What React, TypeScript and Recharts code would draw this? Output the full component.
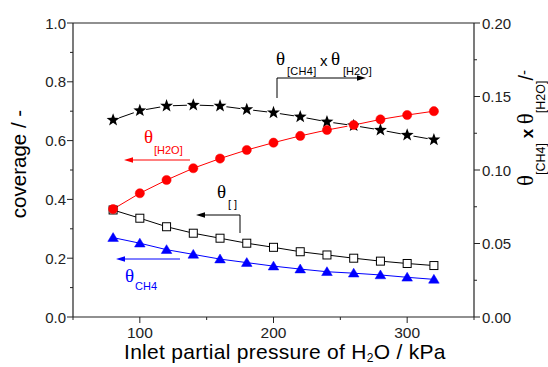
import React from 'react';
import { ComposedChart, Line, XAxis, YAxis, ReferenceLine } from 'recharts';

// Inlet partial pressure of H2O (kPa)
const pressures = [80, 100, 120, 140, 160, 180, 200, 220, 240, 260, 280, 300, 320];
// coverages (left axis)
const thetaH2O = [0.367, 0.421, 0.466, 0.506, 0.539, 0.568, 0.593, 0.616, 0.636, 0.653, 0.672, 0.687, 0.7];
const thetaVacant = [0.364, 0.336, 0.307, 0.285, 0.268, 0.251, 0.237, 0.222, 0.211, 0.2, 0.19, 0.182, 0.175];
const thetaCH4 = [0.27, 0.251, 0.229, 0.213, 0.197, 0.185, 0.173, 0.163, 0.154, 0.149, 0.143, 0.135, 0.128];
// product theta_CH4 x theta_H2O (right axis)
const productCH4H2O = [0.134, 0.1404, 0.1436, 0.1442, 0.1436, 0.1412, 0.139, 0.1362, 0.1328, 0.1302, 0.1272, 0.1238, 0.1206];

const xTicks = [50, 100, 150, 200, 250, 300, 350];
const leftTicks = [0, 0.1, 0.2, 0.3, 0.4, 0.5, 0.6, 0.7, 0.8, 0.9, 1.0];
const rightTicks = [0, 0.025, 0.05, 0.075, 0.1, 0.125, 0.15, 0.175, 0.2];

const data = pressures.map((p, i) => ({
  p,
  h2o: thetaH2O[i],
  vac: thetaVacant[i],
  ch4: thetaCH4[i],
  prod: productCH4H2O[i],
}));

const SANS = '"Liberation Sans", Arial, sans-serif';
const SERIF = '"Liberation Serif", "Times New Roman", serif';
const AX = '#222';
const RED = '#ff0000';
const BLUE = '#0000ff';

const LeftTick = (props: any) => {
  const { x, y, payload } = props;
  const v = payload.value;
  const major = Math.round(v * 10) % 2 === 0;
  return (
    <g>
      <line x1={x} x2={x - (major ? 6 : 3)} y1={y} y2={y} stroke={AX} />
      {major && (
        <text x={x - 7} y={y + 5.5} textAnchor="end" fontSize={15} fontFamily={SANS} fill={AX}>
          {v.toFixed(1)}
        </text>
      )}
    </g>
  );
};

const RightTick = (props: any) => {
  const { x, y, payload } = props;
  const v = payload.value;
  const major = Math.round(v * 40) % 2 === 0;
  return (
    <g>
      <line x1={x} x2={x + (major ? 6 : 3)} y1={y} y2={y} stroke={AX} />
      {major && (
        <text x={x + 8} y={y + 5.5} textAnchor="start" fontSize={15} fontFamily={SANS} fill={AX}>
          {v.toFixed(2)}
        </text>
      )}
    </g>
  );
};

const BottomTick = (props: any) => {
  const { x, y, payload } = props;
  const v = payload.value;
  const major = v % 100 === 0;
  return (
    <g>
      <line x1={x} x2={x} y1={y} y2={y + (major ? 6 : 3)} stroke={AX} />
      {major && (
        <text x={x} y={y + 21} textAnchor="middle" fontSize={15.5} fontFamily={SANS} fill={AX}>
          {v}
        </text>
      )}
    </g>
  );
};

const CircleDot = (p: any) => (
  <circle key={`c${p.index}`} cx={p.cx} cy={p.cy} r={4.6} fill={RED} stroke={RED} strokeWidth={0.5} />
);
const SquareDot = (p: any) => (
  <rect key={`s${p.index}`} x={p.cx - 4} y={p.cy - 4} width={8} height={8} fill="#fff" stroke="#000" strokeWidth={1} />
);
const TriangleDot = (p: any) => (
  <path
    key={`t${p.index}`}
    d={`M${p.cx},${p.cy - 5}L${p.cx + 5.3},${p.cy + 3.8}L${p.cx - 5.3},${p.cy + 3.8}Z`}
    fill={BLUE}
    stroke={BLUE}
    strokeWidth={0.5}
  />
);
const StarDot = (p: any) => {
  const R = 6.8;
  const r = 2.8;
  let d = '';
  for (let k = 0; k < 10; k++) {
    const ang = -Math.PI / 2 + (k * Math.PI) / 5;
    const rr = k % 2 === 0 ? R : r;
    d += `${k === 0 ? 'M' : 'L'}${(p.cx + rr * Math.cos(ang)).toFixed(2)},${(p.cy + rr * Math.sin(ang)).toFixed(2)}`;
  }
  d += 'Z';
  return (
    <g key={`st${p.index}`}>
      <circle cx={p.cx} cy={p.cy} r={6.5} fill="#fff" />
      <path d={d} fill="#000" />
    </g>
  );
};

const arrowLeft = (xHead: number, y: number, color: string) => (
  <path d={`M${xHead},${y}L${xHead + 9},${y - 2.8}L${xHead + 9},${y + 2.8}Z`} fill={color} />
);
const arrowRight = (xHead: number, y: number, color: string) => (
  <path d={`M${xHead},${y}L${xHead - 9},${y - 2.8}L${xHead - 9},${y + 2.8}Z`} fill={color} />
);

export default function App() {
  return (
    <div style={{ position: 'absolute', left: 0, top: 0, width: 548, height: 367, background: '#fff' }}>
      <ComposedChart width={548} height={367} data={data} margin={{ top: 23, right: 0, bottom: 0, left: 0 }}>
        <XAxis
          dataKey="p"
          type="number"
          domain={[50, 350]}
          ticks={xTicks}
          interval={0}
          tickSize={0}
          tickMargin={0}
          tick={BottomTick}
          axisLine={{ stroke: AX, strokeWidth: 1.2 }}
          tickLine={false}
          height={50}
          allowDataOverflow
        />
        <YAxis
          yAxisId="left"
          type="number"
          domain={[0, 1]}
          ticks={leftTicks}
          interval={0}
          tickSize={0}
          tickMargin={0}
          tick={LeftTick}
          axisLine={{ stroke: AX, strokeWidth: 1.2 }}
          tickLine={false}
          width={73}
          allowDataOverflow
        />
        <YAxis
          yAxisId="right"
          orientation="right"
          type="number"
          domain={[0, 0.2]}
          ticks={rightTicks}
          interval={0}
          tickSize={0}
          tickMargin={0}
          tick={RightTick}
          axisLine={{ stroke: AX, strokeWidth: 1.2 }}
          tickLine={false}
          width={74}
          allowDataOverflow
        />
        <ReferenceLine yAxisId="left" y={1} stroke={AX} strokeWidth={1.2} ifOverflow="extendDomain" />
        <Line
          yAxisId="right"
          dataKey="prod"
          type="linear"
          stroke="#000"
          strokeWidth={1}
          dot={StarDot}
          isAnimationActive={false}
        />
        <Line
          yAxisId="left"
          dataKey="vac"
          type="linear"
          stroke="#000"
          strokeWidth={1}
          dot={SquareDot}
          isAnimationActive={false}
        />
        <Line
          yAxisId="left"
          dataKey="ch4"
          type="linear"
          stroke={BLUE}
          strokeWidth={1}
          dot={TriangleDot}
          isAnimationActive={false}
        />
        <Line
          yAxisId="left"
          dataKey="h2o"
          type="linear"
          stroke={RED}
          strokeWidth={1}
          dot={CircleDot}
          isAnimationActive={false}
        />
      </ComposedChart>
      <svg
        width={548}
        height={367}
        style={{ position: 'absolute', left: 0, top: 0, pointerEvents: 'none' }}
      >
        {/* left axis title */}
        <text
          transform="translate(26,164) rotate(-90)"
          textAnchor="middle"
          fontSize={20.5}
          fontFamily={SANS}
          fill="#000"
        >
          coverage / -
        </text>
        {/* bottom axis title */}
        <text x={124} y={359} fontSize={21} fontFamily={SANS} fill="#000" letterSpacing={0.3}>
          Inlet partial pressure of H
          <tspan fontSize={12} dy={3}>2</tspan>
          <tspan dy={-3}>O / kPa</tspan>
        </text>
        {/* right axis title */}
        <text
          transform="translate(533,128) rotate(-90)"
          textAnchor="middle"
          fontFamily={SANS}
          fill="#000"
        >
          <tspan fontFamily={SERIF} fontSize={23}>θ</tspan>
          <tspan fontSize={12.5} dy={12}>[CH4]</tspan>
          <tspan fontSize={17} fontWeight="bold" dy={-12}> x </tspan>
          <tspan fontFamily={SERIF} fontSize={23}>θ</tspan>
          <tspan fontSize={12.5} dy={12}>[H2O]</tspan>
          <tspan fontSize={20} dy={-12}>/</tspan>
          <tspan fontSize={15} dy={-4}>-</tspan>
        </text>

        {/* theta CH4 x theta H2O annotation */}
        <text x={276} y={65} fontFamily={SERIF} fontSize={19} fill="#000">θ</text>
        <text x={287} y={75} fontFamily={SANS} fontSize={11} fill="#000" letterSpacing={0.3}>[CH4]</text>
        <text x={320} y={66} fontFamily={SANS} fontSize={15} fill="#000">x</text>
        <text x={331} y={65} fontFamily={SERIF} fontSize={19} fill="#000">θ</text>
        <text x={343} y={75} fontFamily={SANS} fontSize={11} fill="#000">[H2O]</text>
        <path d="M277,98V78H358" stroke="#000" strokeWidth={1} fill="none" />
        {arrowRight(366, 78, '#000')}

        {/* theta H2O annotation */}
        <text x={144} y={143} fontFamily={SERIF} fontSize={19} fill={RED}>θ</text>
        <text x={154} y={154} fontFamily={SANS} fontSize={11} fill={RED}>[H2O]</text>
        <line x1={132} x2={190} y1={160} y2={160} stroke={RED} strokeWidth={1} />
        {arrowLeft(124, 160, RED)}

        {/* theta vacant annotation */}
        <text x={217} y={198} fontFamily={SERIF} fontSize={19} fill="#000">θ</text>
        <text x={228} y={208} fontFamily={SANS} fontSize={11} fill="#000">[ ]</text>
        <path d="M240,233V215H204" stroke="#000" strokeWidth={1} fill="none" />
        {arrowLeft(196, 215, '#000')}

        {/* theta CH4 annotation */}
        <line x1={124} x2={180} y1={259} y2={259} stroke={BLUE} strokeWidth={1} />
        {arrowLeft(116, 259, BLUE)}
        <text x={125} y={282} fontFamily={SERIF} fontSize={19} fill={BLUE}>θ</text>
        <text x={135} y={290} fontFamily={SANS} fontSize={11} fill={BLUE}>CH4</text>
      </svg>
    </div>
  );
}
